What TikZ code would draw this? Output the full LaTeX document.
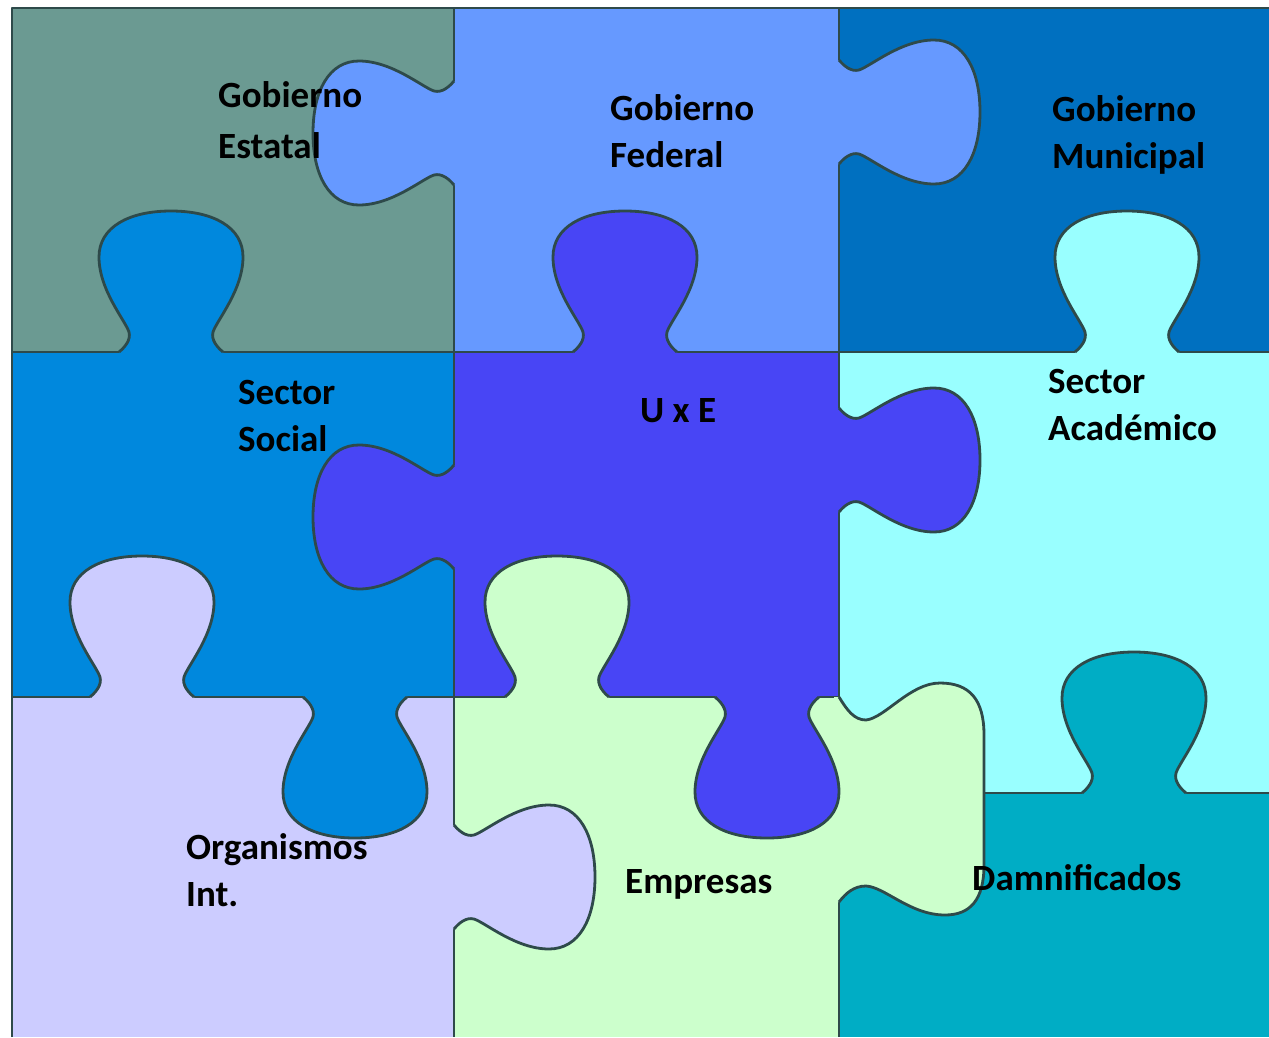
\documentclass[tikz,border=0pt]{standalone}
\usepackage{fontspec}
\setmainfont{Carlito}

\definecolor{estatal}{HTML}{6B9A92}
\definecolor{federal}{HTML}{6699FF}
\definecolor{municipal}{HTML}{0070C0}
\definecolor{social}{HTML}{0088DD}
\definecolor{uxe}{HTML}{4845F5}
\definecolor{academico}{HTML}{99FFFF}
\definecolor{organismos}{HTML}{CCCCFF}
\definecolor{empresas}{HTML}{CCFFCC}
\definecolor{damnificados}{HTML}{00ADC5}
\definecolor{edgegray}{HTML}{2E4A4A}

\tikzset{
  seam/.style={draw=edgegray, line width=2.8pt, line join=round},
  tag/.style={anchor=base west, align=left, inner sep=0pt,
    font=\bfseries\fontsize{37}{47}\selectfont},
  knobcurve/.style={insert path={.. controls (-46,-5) and (-40,-12) .. (-42,-20)
    .. controls (-46,-32) and (-72,-62) .. (-72,-95)
    .. controls (-72,-125) and (-42,-141) .. (0,-141)
    .. controls (42,-141) and (72,-125) .. (72,-95)
    .. controls (72,-62) and (46,-32) .. (42,-20)
    .. controls (40,-12) and (46,-5) .. (52,0)}},
  widecurve/.style={insert path={.. controls (847,710) and (854,720) .. (866,720)
    .. controls (885,718) and (910,683) .. (940,683)
    .. controls (970,683) and (984,700) .. (984,735) -- (984,865)
    .. controls (984,900) and (970,915) .. (945,915)
    .. controls (910,915) and (885,887) .. (866,886)
    .. controls (854,886) and (846,893) .. (839,902)}}
}

\begin{document}
\begin{tikzpicture}[x=1pt, y=-1pt]
\useasboundingbox (0,0) rectangle (1269,1037);
\fill[white] (0,0) rectangle (1269,1037);

% pieces
\fill[estatal] (12,8) rectangle (454,352);
\fill[federal] (454,8) rectangle (839,352);
\fill[municipal] (839,8) rectangle (1269,352);
\fill[social] (12,352) rectangle (454,697);
\fill[uxe] (454,352) rectangle (839,697);
\fill[academico] (839,352) rectangle (1269,793);
\fill[organismos] (12,697) rectangle (454,1037);
\fill[empresas] (454,697) rectangle (839,1037);
\fill[damnificados] (839,793) rectangle (1269,1037);

% seams
\draw[seam] (12,1037) -- (12,8) -- (1269,8);
\draw[seam] (454,8) -- (454,1037);
\draw[seam] (839,8) -- (839,1037);
\draw[seam] (12,352) -- (1269,352);
\draw[seam] (12,697) -- (839,697);
\draw[seam] (984,793) -- (1269,793);

% knobs
\fill[empresas] (834,697) -- (839,697) [widecurve] -- (834,902) -- cycle;
\draw[seam] (839,697) [widecurve];

\foreach \kx/\ky/\kr/\kc in {454/133/90/federal, 171/352/0/social,
  625/352/0/uxe, 839/112/-90/federal, 1127/352/0/academico,
  454/517/90/uxe, 839/460/-90/uxe, 142/697/0/organismos,
  355/697/180/social, 557/697/0/empresas, 767/697/180/uxe,
  454/877/-90/organismos, 1134/793/0/damnificados}{
\begin{scope}[shift={(\kx,\ky)}, rotate=\kr]
\fill[\kc] (-52,5) -- (-52,0) [knobcurve] -- (52,5) -- cycle;
\draw[seam] (-52,0) [knobcurve];
\end{scope}}

% labels
\node[tag, font=\bfseries\fontsize{37}{51}\selectfont] (estatal) at (218,158) {Gobierno\\Estatal};
\node[tag] (federal) at (610,167) {Gobierno\\Federal};
\node[tag] (municipal) at (1052,168) {Gobierno\\Municipal};
\node[tag] (social) at (238,451) {Sector\\Social};
\node[tag] (uxe) at (640,422) {U x E};
\node[tag] (academico) at (1048,440) {Sector\\Académico};
\node[tag] (organismos) at (186,906) {Organismos\\Int.};
\node[tag] (empresas) at (625,893) {Empresas};
\node[tag] (damnificados) at (972,890) {Damnificados};
\end{tikzpicture}
\end{document}
